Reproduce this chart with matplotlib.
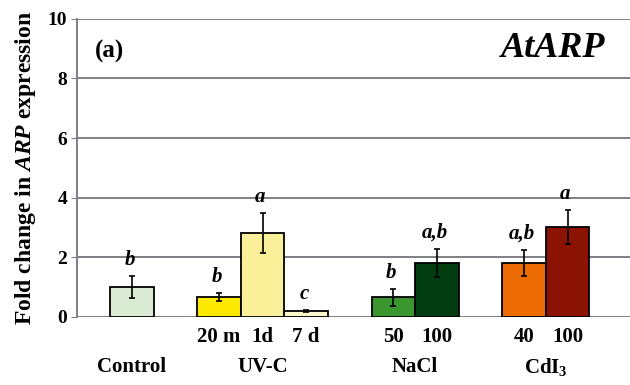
import matplotlib.pyplot as plt

# data
conditions = ["Control", "20 m", "1d", "7 d", "50", "100", "40", "100"]
values = [1.0, 0.67, 2.82, 0.20, 0.65, 1.81, 1.81, 3.02]
errors = [0.36, 0.13, 0.68, 0.03, 0.27, 0.48, 0.45, 0.57]
letters = ["b", "b", "a", "c", "b", "a,b", "a,b", "a"]
sub_labels = ["", "20 m", "1d", "7 d", "50", "100", "40", "100"]
groups = ["Control", "UV-C", "NaCl", "CdI$_3$"]

positions = [1, 3, 4, 5, 7, 8, 10, 11]
group_pos = [1, 4, 7.5, 10.5]
colors = ["#d9ebd2", "#fde800", "#fbf09a", "#fdf7cc",
          "#3b962f", "#023d12", "#ec6b03", "#8a1303"]

plt.rcParams["font.family"] = ["Liberation Serif", "DejaVu Serif"]
plt.rcParams["font.weight"] = "bold"
plt.rcParams["mathtext.fontset"] = "custom"
plt.rcParams["mathtext.rm"] = "Liberation Serif:bold"
plt.rcParams["mathtext.it"] = "Liberation Serif:bold:italic"

fig = plt.figure(figsize=(6.3, 3.85), dpi=100)
ax = fig.add_axes([0.122, 0.177, 0.878, 0.774])

grid_c = "#7f7f86"
ax.set_axisbelow(True)
ax.grid(axis="y", color=grid_c, linewidth=1.4)
ax.bar(positions, values, width=1.0, color=colors, edgecolor="black", linewidth=1.3)
ax.errorbar(positions, values, yerr=errors, fmt="none", ecolor="black",
            elinewidth=1.2, capsize=2.5, capthick=1.2)

for x, v, e, t in zip(positions, values, errors, letters):
    ax.text(x - 0.05, v + e + 0.2, t, ha="center", va="bottom",
            fontsize=15, style="italic", fontweight="bold")

ax.set_ylim(0, 10)
ax.set_yticks([0, 2, 4, 6, 8, 10])
ax.set_xlim(-0.26, 12.43)
ax.set_xticks([])
ax.tick_params(axis="y", length=4, color=grid_c, labelsize=14, pad=3)
for lbl in ax.get_yticklabels():
    lbl.set_fontweight("bold")

for s in ["top", "right", "bottom"]:
    ax.spines[s].set_visible(False)
ax.spines["left"].set_color(grid_c)
ax.spines["left"].set_linewidth(1.4)

for x, t in zip(positions, sub_labels):
    if t:
        ax.text(x, -0.67, t, ha="center", va="center", fontsize=15,
                fontweight="bold", clip_on=False)
for x, t in zip(group_pos, groups):
    ax.text(x, -1.67, t, ha="center", va="center", fontsize=15,
            fontweight="bold", clip_on=False)

ax.set_ylabel("Fold change in $\\mathit{ARP}$ expression", fontsize=17,
              fontweight="bold", labelpad=7)

ax.text(0.032, 0.93, "(a)", transform=ax.transAxes, fontsize=18,
        fontweight="bold", va="top")
ax.text(0.955, 0.955, "AtARP", transform=ax.transAxes, fontsize=26,
        fontweight="bold", style="italic", ha="right", va="top")

fig.savefig("out.png", dpi=100)
